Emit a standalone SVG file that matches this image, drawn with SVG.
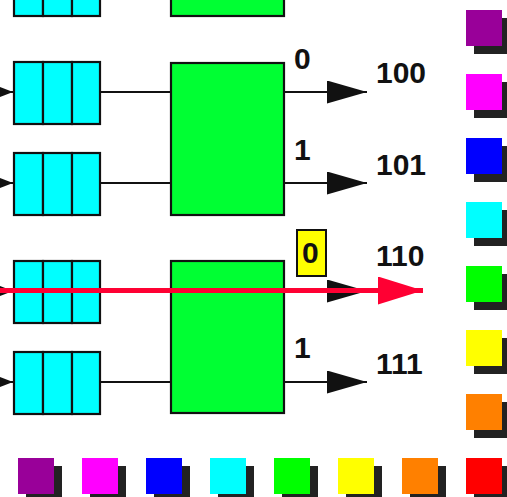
<svg xmlns="http://www.w3.org/2000/svg" width="507" height="497" viewBox="0 0 507 497">
  <style>
    .cell { fill: #00ffff; stroke: #111; stroke-width: 2.2; }
    .sw { stroke: #111; stroke-width: 2.2; fill: #00ff33; }
    .wire { stroke: #111; stroke-width: 2.2; fill: none; }
    .lbl { font-family: "Liberation Sans", Arial, sans-serif; font-weight: bold; font-size: 30px; fill: #111; }
    .shadow { fill: #222; }
  </style>
  <defs>
    <marker id="inArrow" markerUnits="userSpaceOnUse" markerWidth="14" markerHeight="12" refX="13" refY="5" orient="auto">
      <path d="M0,0 L13,5 L0,10 Z" fill="#111"/>
    </marker>
    <marker id="outArrow" markerUnits="userSpaceOnUse" markerWidth="42" markerHeight="24" refX="40" refY="11.5" orient="auto">
      <path d="M0,0 L40,11.5 L0,23 Z" fill="#111"/>
    </marker>
    <marker id="redArrow" markerUnits="userSpaceOnUse" markerWidth="46" markerHeight="30" refX="45" refY="14" orient="auto">
      <path d="M0,0 L45,14 L0,28 Z" fill="#ff0033"/>
    </marker>
    <g id="queue">
      <rect class="cell" x="0" y="0" width="29" height="62"/>
      <rect class="cell" x="29" y="0" width="29" height="62"/>
      <rect class="cell" x="58" y="0" width="28" height="62"/>
    </g>
  </defs>

  <!-- connectors -->
  <g id="connectors">
    <line class="wire" x1="-20" y1="92" x2="13" y2="92" marker-end="url(#inArrow)"/>
    <line class="wire" x1="-20" y1="183" x2="13" y2="183" marker-end="url(#inArrow)"/>
    <line class="wire" x1="-20" y1="291" x2="13" y2="291" marker-end="url(#inArrow)"/>
    <line class="wire" x1="-20" y1="382" x2="13" y2="382" marker-end="url(#inArrow)"/>
    <line class="wire" x1="100" y1="92" x2="170" y2="92"/>
    <line class="wire" x1="100" y1="183" x2="170" y2="183"/>
    <line class="wire" x1="100" y1="382" x2="170" y2="382"/>
    <line class="wire" x1="284" y1="92" x2="367" y2="92" marker-end="url(#outArrow)"/>
    <line class="wire" x1="284" y1="183" x2="367" y2="183" marker-end="url(#outArrow)"/>
    <line class="wire" x1="284" y1="291" x2="367" y2="291" marker-end="url(#outArrow)"/>
    <line class="wire" x1="284" y1="382" x2="367" y2="382" marker-end="url(#outArrow)"/>
  </g>

  <!-- input queues -->
  <g id="queue0"><use href="#queue" x="14" y="-46"/></g>
  <g id="queue1"><use href="#queue" x="14" y="62"/></g>
  <g id="queue2"><use href="#queue" x="14" y="153"/></g>
  <g id="queue3"><use href="#queue" x="14" y="261"/></g>
  <g id="queue4"><use href="#queue" x="14" y="352"/></g>

  <!-- 2x2 switch elements -->
  <g id="switch0"><rect class="sw" x="171" y="-140" width="113" height="156"/></g>
  <g id="switch1"><rect class="sw" x="171" y="63" width="113" height="152"/></g>
  <g id="switch2"><rect class="sw" x="171" y="261" width="113" height="152"/></g>

  <!-- port bits and output addresses -->
  <g id="labels">
    <text class="lbl" x="294" y="69">0</text>
    <text class="lbl" x="294" y="160">1</text>
    <text class="lbl" x="294" y="358">1</text>
    <text class="lbl" x="376" y="83">100</text>
    <text class="lbl" x="376" y="175">101</text>
    <text class="lbl" x="376" y="266">110</text>
    <text class="lbl" x="376" y="374">111</text>
  </g>
  <g id="highlight">
    <rect x="297" y="230" width="29" height="46" fill="#ffff00" stroke="#111" stroke-width="2"/>
    <text class="lbl" x="302" y="263">0</text>
  </g>

  <!-- routed path -->
  <g id="route">
    <line x1="0" y1="290.5" x2="423" y2="290.5" stroke="#ff0033" stroke-width="5" marker-end="url(#redArrow)"/>
  </g>

  <!-- colour swatches -->
  <g id="swatches">
    <rect class="shadow" x="474" y="18" width="36" height="36"/><rect x="466" y="10" width="36" height="36" fill="#990099"/>
    <rect class="shadow" x="474" y="82" width="36" height="36"/><rect x="466" y="74" width="36" height="36" fill="#ff00ff"/>
    <rect class="shadow" x="474" y="146" width="36" height="36"/><rect x="466" y="138" width="36" height="36" fill="#0000ff"/>
    <rect class="shadow" x="474" y="210" width="36" height="36"/><rect x="466" y="202" width="36" height="36" fill="#00ffff"/>
    <rect class="shadow" x="474" y="274" width="36" height="36"/><rect x="466" y="266" width="36" height="36" fill="#00ff00"/>
    <rect class="shadow" x="474" y="338" width="36" height="36"/><rect x="466" y="330" width="36" height="36" fill="#ffff00"/>
    <rect class="shadow" x="474" y="402" width="36" height="36"/><rect x="466" y="394" width="36" height="36" fill="#ff8000"/>

    <rect class="shadow" x="26" y="466" width="36" height="36"/><rect x="18" y="458" width="36" height="36" fill="#990099"/>
    <rect class="shadow" x="90" y="466" width="36" height="36"/><rect x="82" y="458" width="36" height="36" fill="#ff00ff"/>
    <rect class="shadow" x="154" y="466" width="36" height="36"/><rect x="146" y="458" width="36" height="36" fill="#0000ff"/>
    <rect class="shadow" x="218" y="466" width="36" height="36"/><rect x="210" y="458" width="36" height="36" fill="#00ffff"/>
    <rect class="shadow" x="282" y="466" width="36" height="36"/><rect x="274" y="458" width="36" height="36" fill="#00ff00"/>
    <rect class="shadow" x="346" y="466" width="36" height="36"/><rect x="338" y="458" width="36" height="36" fill="#ffff00"/>
    <rect class="shadow" x="410" y="466" width="36" height="36"/><rect x="402" y="458" width="36" height="36" fill="#ff8000"/>
    <rect class="shadow" x="474" y="466" width="36" height="36"/><rect x="466" y="458" width="36" height="36" fill="#ff0000"/>
  </g>
</svg>
